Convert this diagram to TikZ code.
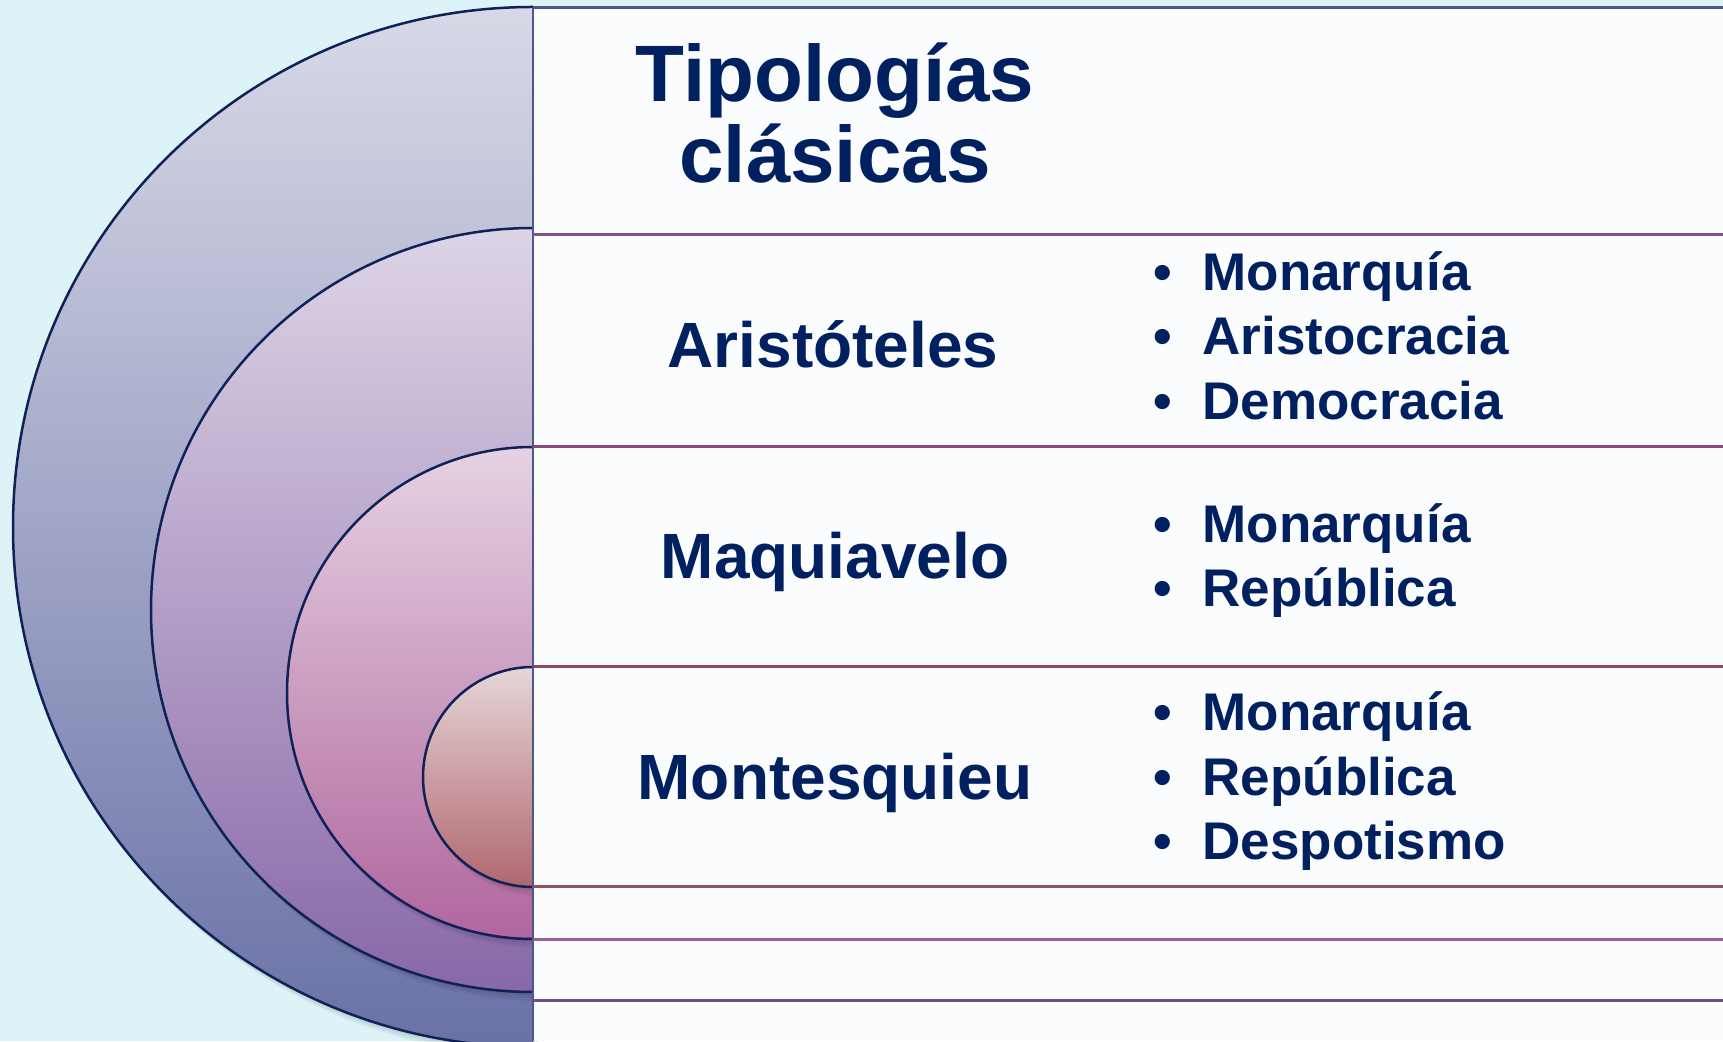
\documentclass[tikz,border=0pt]{standalone}
\usepackage{fontspec}
\setmainfont{Liberation Sans}
\usepackage{tikz}
\usetikzlibrary{positioning}

\definecolor{bgcyan}{HTML}{DCF4F8}
\definecolor{panel}{HTML}{FBFCFE}
\definecolor{navytext}{HTML}{002060}
\definecolor{rimline}{HTML}{0E2258}
\definecolor{aonetop}{HTML}{D8D9E7}
\definecolor{aonebot}{HTML}{6971A6}
\definecolor{atwotop}{HTML}{DDD4E6}
\definecolor{atwobot}{HTML}{8868A8}
\definecolor{athreetop}{HTML}{E6D2E2}
\definecolor{athreebot}{HTML}{B0669E}
\definecolor{afourtop}{HTML}{E6D6D8}
\definecolor{afourbot}{HTML}{B0676F}
\definecolor{lnzero}{HTML}{4F5689}
\definecolor{lnone}{HTML}{7A5690}
\definecolor{lntwo}{HTML}{8A4A7F}
\definecolor{lnthree}{HTML}{8D4A5E}
\definecolor{lnfour}{HTML}{94505E}
\definecolor{lnfive}{HTML}{9A5D9A}
\definecolor{lnsix}{HTML}{6A4E88}

\tikzset{
    author/.style={anchor=base, text=navytext, font=\bfseries\fontsize{64}{64}\selectfont},
    item/.style={anchor=base west, text=navytext, font=\bfseries\fontsize{53}{53}\selectfont},
    dot/.style={anchor=base, text=navytext, font=\bfseries\fontsize{53}{53}\selectfont},
    rim/.style={draw=rimline, line width=2.5pt}
}

\begin{document}
\begin{tikzpicture}[x=1pt, y=1pt]
    \useasboundingbox (0,0) rectangle (1723,1041);
    \clip (0,0) rectangle (1723,1041);

    % Background
    \fill[bgcyan] (0,0) rectangle (1723,1041);

    % Nested half discs (top y / radius / colours)
    \foreach \ty/\r/\ct/\cb in {1034/520/aonetop/aonebot, 813/382/atwotop/atwobot,
                                594/246/athreetop/athreebot, 374/110/afourtop/afourbot} {
        \foreach \s in {2,4,6} {
            \fill[black, opacity=0.05] (533+\s,\ty-1.5*\s) arc[start angle=90, end angle=270, radius=\r pt] -- cycle;
        }
        \shade[top color=\ct, bottom color=\cb] (533,\ty) arc[start angle=90, end angle=270, radius=\r pt] -- cycle;
        \draw[rim] (533,\ty) arc[start angle=90, end angle=270, radius=\r pt];
    }

    % Right panel
    \fill[panel] (533,0) rectangle (1723,1033);
    \draw[lnzero, line width=1.5pt] (533,0) -- (533,1033);

    % Row borders
    \foreach \yy/\col in {1033/lnzero, 806/lnone, 594/lntwo, 374/lnthree, 154/lnfour, 101/lnfive, 41/lnsix} {
        \draw[\col, line width=3pt] (533,\yy) -- (1723,\yy);
    }

    % Title
    \node[anchor=base, text=navytext, align=center, font=\bfseries\fontsize{80}{81}\selectfont]
        (title) at (835,858) {Tipologías\\clásicas};

    % Authors
    \node[author] (aristoteles) at (833,673) {Aristóteles};
    \node[author] (maquiavelo) at (835,462) {Maquiavelo};
    \node[author] (montesquieu) at (835,241) {Montesquieu};

    % Forms of government
    \foreach \y/\t [count=\i] in {750/Monarquía, 686/Aristocracia, 621/Democracia,
                                  498/Monarquía, 434/República,
                                  310/Monarquía, 245/República, 181/Despotismo} {
        \node[dot] (dot\i) at (1163,\y) {•};
        \node[item] (form\i) at (1199,\y) {\t};
    }

\end{tikzpicture}
\end{document}
